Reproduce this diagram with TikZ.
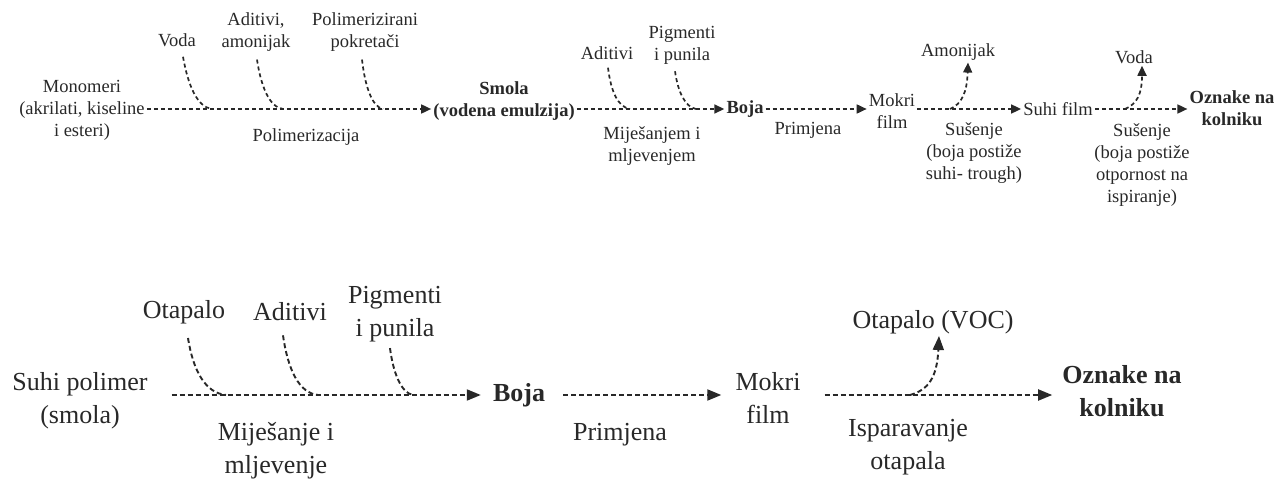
\documentclass[tikz,border=0pt]{standalone}
\usepackage{fontspec}
\setmainfont{Liberation Serif}
\usetikzlibrary{arrows.meta}
\definecolor{ink}{RGB}{40,40,40}
\begin{document}
\begin{tikzpicture}[x=1pt,y=-1pt,
  lbl/.style={font=\fontsize{18.5}{22}\selectfont, text=ink, align=center, inner sep=2pt},
  lblb/.style={lbl, font=\fontsize{18.5}{22}\selectfont\bfseries},
  big/.style={font=\fontsize{26}{33}\selectfont, text=ink, align=center, inner sep=2pt},
  bigb/.style={big, font=\fontsize{26}{33}\selectfont\bfseries},
  feed/.style={draw=ink, line width=1.7pt, dash pattern=on 4pt off 3pt},
  flow/.style={feed, -{Triangle[length=10pt,width=9pt]}},
  feedb/.style={draw=ink, line width=1.9pt, dash pattern=on 5pt off 3pt},
  flowb/.style={feedb, -{Triangle[length=14pt,width=11pt]}},
]
\path[use as bounding box] (0,0) rectangle (1276,481);
% ---------- top row ----------
\coordinate (r1) at (0,109);
\node[lbl]  (mono)   at (82,110)   {Monomeri\\(akrilati, kiseline\\i esteri)};
\node[lblb] (smola)  at (504,101)  {Smola\\(vodena emulzija)};
\node[lblb] (boja1)  at (745,109)  {Boja};
\node[lbl]  (mokri1) at (892,111)  {Mokri\\film};
\node[lbl]  (suhi)   at (1058,109) {Suhi film};
\node[lblb] (ozn1)   at (1232,108) {Oznake na\\kolniku};

\node[lbl] (voda1)  at (177,40)  {Voda};
\node[lbl] (adam)   at (256,32)  {Aditivi,\\amonijak};
\node[lbl] (polpok) at (365,32)  {Polimerizirani\\pokretači};
\node[lbl] (adit1)  at (607,53)  {Aditivi};
\node[lbl] (pig1)   at (682,45)  {Pigmenti\\i punila};
\node[lbl] (amon)   at (958,52)  {Amonijak};
\node[lbl] (voda2)  at (1134,57) {Voda};

\node[lbl] (polim)  at (306,137)  {Polimerizacija};
\node[lbl] (mijes1) at (652,146)  {Miješanjem i\\mljevenjem};
\node[lbl] (prim1)  at (808,130)  {Primjena};
\node[lbl] (sus1)   at (974,153)  {Sušenje\\(boja postiže\\suhi- trough)};
\node[lbl] (sus2)   at (1142,165) {Sušenje\\(boja postiže\\otpornost na\\ispiranje)};

\coordinate (j1) at (212,109);
\coordinate (j2) at (283,109);
\coordinate (j3) at (383,109);
\coordinate (j4) at (630,109);
\coordinate (j5) at (696,109);
\coordinate (s1) at (950,109);
\coordinate (s2) at (1125,109);

\draw[flow] (mono.east |- r1) -- (smola.west |- r1);
\draw[flow] (smola.east |- r1) -- (boja1.west);
\draw[flow] (boja1.east) -- (mokri1.west |- r1);
\draw[flow] (mokri1.east |- r1) -- (suhi.west);
\draw[flow] (suhi.east) -- (ozn1.west |- r1);

\draw[feed] ([xshift=6pt,yshift=-8pt]voda1.south) .. controls (188,85) and (197,107) .. (j1);
\draw[feed] ([xshift=1pt,yshift=-6pt]adam.south) .. controls (261,86) and (269,107) .. (j2);
\draw[feed] ([xshift=-3pt,yshift=-6pt]polpok.south) .. controls (365,86) and (372,107) .. (j3);
\draw[feed] ([xshift=1pt,yshift=-6pt]adit1.south) .. controls (611,92) and (618,107) .. (j4);
\draw[feed] ([xshift=-7pt,yshift=-5pt]pig1.south) .. controls (678,92) and (685,107) .. (j5);
\draw[flow] (s1) .. controls (962,104) and (967,92) .. ([xshift=10pt]amon.south);
\draw[flow] (s2) .. controls (1137,104) and (1142,94) .. ([xshift=8pt]voda2.south);

% ---------- bottom row ----------
\coordinate (r2) at (0,395);
\node[big]  (suhip)  at (80,401)   {Suhi polimer\\(smola)};
\node[bigb] (boja2)  at (519,395)  {Boja};
\node[big]  (mokri2) at (768,398)  {Mokri\\film};
\node[bigb] (ozn2)   at (1122,391) {Oznake na\\kolniku};

\node[big] (otap)  at (184,312) {Otapalo};
\node[big] (adit2) at (290,312) {Aditivi};
\node[big] (pig2)  at (395,314) {Pigmenti\\i punila};
\node[big] (otvoc) at (933,322) {Otapalo (VOC)};

\node[big] (mijes2) at (276,451) {Miješanje i\\mljevenje};
\node[big] (prim2)  at (620,435) {Primjena};
\node[big] (ispar)  at (908,447) {Isparavanje\\otapala};

\coordinate (k1) at (226,395);
\coordinate (k2) at (318,395);
\coordinate (k3) at (413,395);
\coordinate (k4) at (910,395);

\draw[flowb, shorten <=22pt, shorten >=10pt] (suhip.east |- r2) -- (boja2.west);
\draw[flowb, shorten <=16pt, shorten >=12pt] (boja2.east) -- (mokri2.west |- r2);
\draw[flowb, shorten <=22pt, shorten >=8pt] (mokri2.east |- r2) -- (ozn2.west |- r2);

\draw[feedb] ([xshift=4pt,yshift=-12pt]otap.south) .. controls (193,370) and (205,393) .. (k1);
\draw[feedb] ([xshift=-7pt,yshift=-12pt]adit2.south) .. controls (288,370) and (299,393) .. (k2);
\draw[feedb] ([xshift=-5pt,yshift=-4pt]pig2.south) .. controls (393,372) and (401,393) .. (k3);
\draw[flowb] (k4) .. controls (928,390) and (937,378) .. ([xshift=6pt]otvoc.south);
\end{tikzpicture}
\end{document}
